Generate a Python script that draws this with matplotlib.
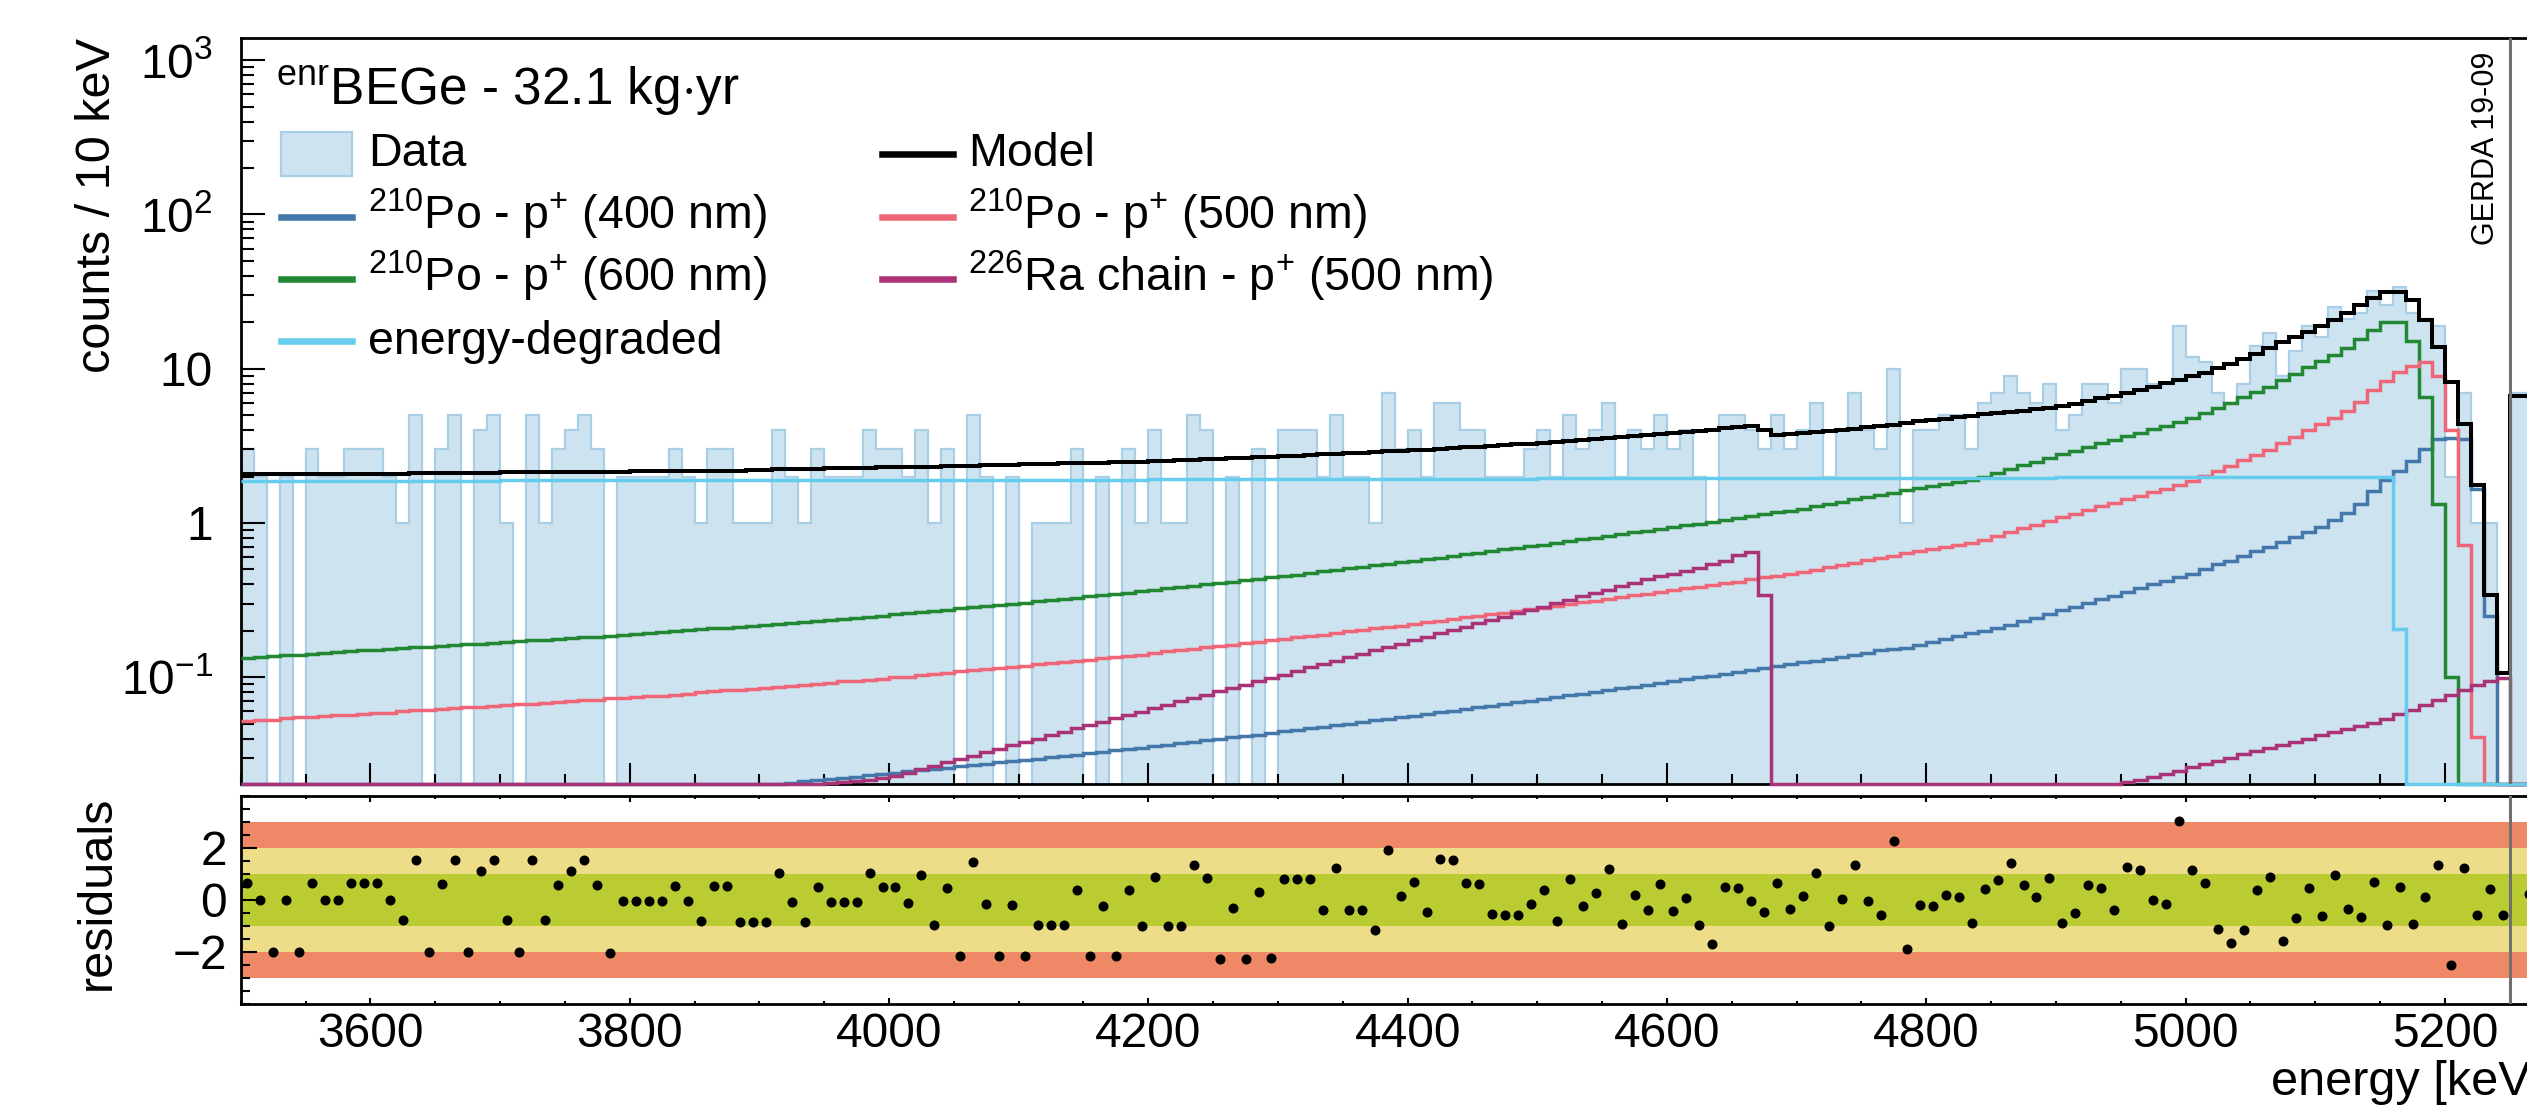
import numpy as np
import matplotlib
matplotlib.use('Agg')
import matplotlib.pyplot as plt
from matplotlib.patches import Rectangle
from matplotlib.lines import Line2D
from matplotlib.ticker import MultipleLocator, NullFormatter

plt.rcParams['font.family'] = ['Liberation Sans', 'DejaVu Sans']
plt.rcParams['mathtext.fontset'] = 'custom'
plt.rcParams['mathtext.rm'] = 'Liberation Sans'
plt.rcParams['mathtext.it'] = 'Liberation Sans:italic'
plt.rcParams['mathtext.bf'] = 'Liberation Sans:bold'

# 10 keV bins from 3500 to 5250 keV, plus one wider bin right of the grey line
edges = np.append(np.arange(3500, 5251, 10), 5280)
centers = 0.5 * (edges[:-1] + edges[1:])

data = [3, 2, 0, 2, 0, 3, 2, 2, 3, 3,
        3, 2, 1, 5, 0, 3, 5, 0, 4, 5,
        1, 0, 5, 1, 3, 4, 5, 3, 0, 2,
        2, 2, 2, 3, 2, 1, 3, 3, 1, 1,
        1, 4, 2, 1, 3, 2, 2, 2, 4, 3,
        3, 2, 4, 1, 3, 0, 5, 2, 0, 2,
        0, 1, 1, 1, 3, 0, 2, 0, 3, 1,
        4, 1, 1, 5, 4, 0, 2, 0, 3, 0,
        4, 4, 4, 2, 5, 2, 2, 1, 7, 3,
        4, 2, 6, 6, 4, 4, 2, 2, 2, 3,
        4, 2, 5, 3, 4, 6, 2, 4, 3, 5,
        3, 4, 2, 1, 5, 5, 4, 3, 5, 3,
        4, 6, 2, 4, 7, 4, 3, 10, 1, 4,
        4, 5, 5, 3, 6, 7, 9, 7, 6, 8,
        4, 5, 8, 8, 6, 10, 10, 8, 8, 19,
        12, 11, 7, 6, 8, 14, 17, 9, 13, 19,
        16, 25, 21, 23, 32, 26, 34, 23, 21, 19,
        2, 7, 1, 1, 0, 7]

model = [2.07, 2.07, 2.07, 2.07, 2.08, 2.08, 2.08, 2.08, 2.08, 2.09,
         2.09, 2.09, 2.09, 2.10, 2.10, 2.10, 2.10, 2.11, 2.11, 2.11,
         2.13, 2.13, 2.13, 2.14, 2.14, 2.14, 2.14, 2.14, 2.15, 2.15,
         2.16, 2.16, 2.16, 2.17, 2.17, 2.17, 2.18, 2.18, 2.18, 2.19,
         2.22, 2.23, 2.23, 2.24, 2.25, 2.26, 2.26, 2.27, 2.28, 2.29,
         2.30, 2.31, 2.32, 2.32, 2.33, 2.34, 2.35, 2.36, 2.37, 2.38,
         2.40, 2.41, 2.42, 2.43, 2.44, 2.45, 2.46, 2.48, 2.49, 2.50,
         2.53, 2.54, 2.56, 2.57, 2.59, 2.61, 2.62, 2.64, 2.66, 2.68,
         2.71, 2.73, 2.75, 2.78, 2.80, 2.83, 2.85, 2.88, 2.91, 2.93,
         2.96, 2.99, 3.02, 3.06, 3.09, 3.12, 3.16, 3.20, 3.23, 3.27,
         3.31, 3.36, 3.40, 3.45, 3.50, 3.55, 3.60, 3.65, 3.71, 3.77,
         3.83, 3.89, 3.95, 4.02, 4.10, 4.18, 4.26, 4.00, 3.70, 3.75,
         3.82, 3.88, 3.94, 4.01, 4.08, 4.16, 4.23, 4.31, 4.47, 4.55,
         4.65, 4.75, 4.85, 4.95, 5.05, 5.15, 5.25, 5.35, 5.45, 5.54,
         5.73, 5.93, 6.18, 6.43, 6.65, 6.99, 7.27, 7.64, 8.04, 8.45,
         8.97, 9.40, 10.1, 10.7, 11.5, 12.4, 13.6, 14.8, 16.0, 17.4,
         18.9, 20.7, 22.9, 25.9, 28.6, 31.6, 31.6, 27.9, 20.7, 13.9,
         8.2, 4.4, 1.77, 0.34, 0.106, 6.65]

# 210Po on p+ contact, 400 nm dead layer
po_400 = [0, 0, 0, 0, 0, 0, 0, 0, 0, 0,
          0, 0, 0, 0, 0, 0, 0, 0, 0, 0,
          0, 0, 0, 0, 0, 0, 0, 0, 0, 0,
          0, 0, 0, 0, 0, 0, 0, 0, 0, 0,
          0.0200, 0.0203, 0.0207, 0.0211, 0.0215, 0.0219, 0.0223, 0.0227, 0.0231, 0.0235,
          0.0240, 0.0245, 0.0250, 0.0254, 0.0259, 0.0264, 0.0269, 0.0274, 0.0280, 0.0285,
          0.0290, 0.0297, 0.0303, 0.0309, 0.0315, 0.0322, 0.0328, 0.0335, 0.0342, 0.0350,
          0.0357, 0.0365, 0.0373, 0.0381, 0.0390, 0.0398, 0.0407, 0.0416, 0.0425, 0.0435,
          0.0445, 0.0455, 0.0466, 0.0477, 0.0488, 0.0500, 0.0512, 0.0524, 0.0536, 0.0549,
          0.0562, 0.0576, 0.0591, 0.0606, 0.0621, 0.0637, 0.0653, 0.0670, 0.0687, 0.0705,
          0.0723, 0.0742, 0.0762, 0.0782, 0.0803, 0.0825, 0.0847, 0.0869, 0.0893, 0.0917,
          0.0942, 0.0969, 0.0996, 0.102, 0.105, 0.108, 0.111, 0.114, 0.118, 0.121,
          0.125, 0.128, 0.132, 0.136, 0.140, 0.144, 0.149, 0.153, 0.154, 0.161,
          0.168, 0.176, 0.184, 0.192, 0.200, 0.208, 0.218, 0.230, 0.243, 0.257,
          0.271, 0.287, 0.303, 0.320, 0.338, 0.358, 0.378, 0.399, 0.422, 0.448,
          0.47, 0.50, 0.54, 0.57, 0.61, 0.66, 0.70, 0.75, 0.81, 0.87,
          0.94, 1.04, 1.16, 1.32, 1.60, 1.90, 2.18, 2.51, 3.0, 3.5,
          3.55, 3.5, 1.67, 0.25, 0, 0]

# 210Po on p+ contact, 500 nm
po_500 = [0.052, 0.053, 0.053, 0.054, 0.055, 0.055, 0.056, 0.057, 0.057, 0.058,
          0.059, 0.059, 0.060, 0.061, 0.061, 0.062, 0.063, 0.064, 0.064, 0.065,
          0.066, 0.067, 0.067, 0.068, 0.069, 0.070, 0.071, 0.071, 0.073, 0.073,
          0.074, 0.075, 0.076, 0.077, 0.078, 0.080, 0.081, 0.082, 0.083, 0.084,
          0.085, 0.087, 0.088, 0.089, 0.090, 0.092, 0.094, 0.095, 0.096, 0.098,
          0.100, 0.101, 0.103, 0.105, 0.107, 0.109, 0.111, 0.113, 0.115, 0.117,
          0.119, 0.121, 0.123, 0.126, 0.128, 0.130, 0.133, 0.135, 0.138, 0.140,
          0.144, 0.147, 0.149, 0.152, 0.156, 0.159, 0.162, 0.166, 0.169, 0.173,
          0.177, 0.181, 0.185, 0.189, 0.193, 0.198, 0.202, 0.207, 0.212, 0.216,
          0.222, 0.227, 0.232, 0.238, 0.244, 0.250, 0.256, 0.262, 0.269, 0.275,
          0.282, 0.289, 0.297, 0.305, 0.313, 0.321, 0.330, 0.339, 0.347, 0.356,
          0.366, 0.376, 0.386, 0.398, 0.410, 0.417, 0.433, 0.445, 0.456, 0.468,
          0.484, 0.499, 0.515, 0.534, 0.554, 0.573, 0.593, 0.612, 0.636, 0.655,
          0.675, 0.698, 0.718, 0.741, 0.780, 0.827, 0.874, 0.924, 0.975, 1.03,
          1.09, 1.15, 1.21, 1.28, 1.35, 1.42, 1.50, 1.58, 1.67, 1.76,
          1.86, 2.01, 2.17, 2.35, 2.55, 2.75, 2.98, 3.28, 3.60, 3.98,
          4.37, 4.80, 5.30, 6.05, 7.3, 8.3, 9.5, 10.4, 11.1, 9.0,
          4.0, 0.72, 0.041, 0, 0, 0]

# 210Po on p+ contact, 600 nm
po_600 = [0.134, 0.136, 0.137, 0.139, 0.140, 0.142, 0.144, 0.145, 0.147, 0.149,
          0.150, 0.152, 0.154, 0.156, 0.157, 0.159, 0.161, 0.163, 0.165, 0.167,
          0.169, 0.171, 0.173, 0.175, 0.177, 0.179, 0.181, 0.183, 0.186, 0.188,
          0.191, 0.193, 0.196, 0.198, 0.201, 0.204, 0.207, 0.209, 0.212, 0.215,
          0.219, 0.222, 0.225, 0.229, 0.232, 0.236, 0.240, 0.243, 0.247, 0.251,
          0.256, 0.260, 0.265, 0.269, 0.274, 0.279, 0.284, 0.289, 0.294, 0.299,
          0.304, 0.310, 0.316, 0.322, 0.328, 0.334, 0.340, 0.347, 0.353, 0.360,
          0.368, 0.376, 0.383, 0.391, 0.399, 0.408, 0.416, 0.425, 0.434, 0.443,
          0.453, 0.463, 0.474, 0.485, 0.495, 0.507, 0.519, 0.531, 0.543, 0.555,
          0.568, 0.582, 0.596, 0.611, 0.625, 0.641, 0.656, 0.673, 0.689, 0.706,
          0.723, 0.742, 0.762, 0.782, 0.803, 0.824, 0.845, 0.868, 0.891, 0.914,
          0.938, 0.964, 0.991, 1.02, 1.05, 1.07, 1.11, 1.14, 1.17, 1.20,
          1.24, 1.28, 1.32, 1.37, 1.42, 1.47, 1.52, 1.57, 1.63, 1.68,
          1.73, 1.79, 1.84, 1.90, 2.00, 2.12, 2.24, 2.37, 2.50, 2.64,
          2.79, 2.94, 3.11, 3.28, 3.46, 3.65, 3.85, 4.06, 4.28, 4.52,
          4.76, 5.15, 5.57, 6.03, 6.53, 7.06, 7.64, 8.40, 9.24, 10.2,
          11.2, 12.3, 13.6, 15.5, 17.8, 20.2, 20.2, 15.2, 6.6, 1.32,
          0.1, 0, 0, 0, 0, 0]

# 226Ra chain on p+ contact, 500 nm
ra_500 = [0, 0, 0, 0, 0, 0, 0, 0, 0, 0,
          0, 0, 0, 0, 0, 0, 0, 0, 0, 0,
          0, 0, 0, 0, 0, 0, 0, 0, 0, 0,
          0, 0, 0, 0, 0, 0, 0, 0, 0, 0,
          0, 0, 0, 0, 0, 0.0205, 0.0209, 0.0213, 0.0217, 0.0223,
          0.0229, 0.0241, 0.0254, 0.0267, 0.0281, 0.0295, 0.0310, 0.0327, 0.0344, 0.0361,
          0.0380, 0.0400, 0.0420, 0.0442, 0.0465, 0.0489, 0.0514, 0.0541, 0.0569, 0.0598,
          0.0629, 0.0662, 0.0696, 0.0732, 0.0770, 0.0810, 0.0852, 0.0896, 0.0943, 0.0992,
          0.104, 0.110, 0.116, 0.122, 0.128, 0.135, 0.142, 0.149, 0.157, 0.165,
          0.173, 0.182, 0.192, 0.202, 0.212, 0.223, 0.235, 0.247, 0.260, 0.273,
          0.287, 0.302, 0.318, 0.334, 0.352, 0.370, 0.389, 0.409, 0.431, 0.453,
          0.47, 0.49, 0.51, 0.54, 0.57, 0.62, 0.65, 0.34, 0, 0,
          0, 0, 0, 0, 0, 0, 0, 0, 0, 0,
          0, 0, 0, 0, 0, 0, 0, 0, 0, 0,
          0, 0, 0, 0.0195, 0.0203, 0.0210, 0.0215, 0.0225, 0.0235, 0.0248,
          0.0260, 0.0273, 0.0287, 0.0301, 0.0316, 0.0332, 0.0348, 0.0365, 0.0382, 0.0400,
          0.0420, 0.0440, 0.0462, 0.0485, 0.0508, 0.0532, 0.0574, 0.061, 0.066, 0.071,
          0.077, 0.083, 0.089, 0.094, 0.099, 0]

degraded = [1.88, 1.88, 1.88, 1.88, 1.88, 1.88, 1.88, 1.88, 1.88, 1.88,
            1.88, 1.88, 1.88, 1.88, 1.88, 1.88, 1.88, 1.88, 1.88, 1.88,
            1.89, 1.89, 1.89, 1.89, 1.89, 1.89, 1.89, 1.89, 1.89, 1.89,
            1.89, 1.89, 1.89, 1.89, 1.89, 1.89, 1.89, 1.89, 1.89, 1.89,
            1.90, 1.90, 1.90, 1.90, 1.90, 1.90, 1.90, 1.90, 1.90, 1.90,
            1.90, 1.90, 1.90, 1.90, 1.90, 1.90, 1.90, 1.90, 1.90, 1.90,
            1.91, 1.91, 1.91, 1.91, 1.91, 1.91, 1.91, 1.91, 1.91, 1.91,
            1.92, 1.92, 1.92, 1.92, 1.92, 1.92, 1.92, 1.92, 1.92, 1.92,
            1.93, 1.93, 1.93, 1.93, 1.93, 1.93, 1.93, 1.93, 1.93, 1.93,
            1.94, 1.94, 1.94, 1.94, 1.94, 1.94, 1.94, 1.94, 1.94, 1.94,
            1.95, 1.95, 1.95, 1.95, 1.95, 1.95, 1.95, 1.95, 1.95, 1.95,
            1.96, 1.96, 1.96, 1.96, 1.96, 1.96, 1.96, 1.96, 1.96, 1.96,
            1.97, 1.97, 1.97, 1.97, 1.97, 1.97, 1.97, 1.97, 1.97, 1.97,
            1.97, 1.97, 1.97, 1.97, 1.97, 1.97, 1.97, 1.97, 1.97, 1.97,
            1.98, 1.98, 1.98, 1.98, 1.98, 1.98, 1.98, 1.98, 1.98, 1.98,
            1.99, 1.99, 1.99, 1.99, 1.99, 1.99, 1.99, 1.99, 1.99, 1.99,
            2.00, 2.00, 2.00, 2.00, 2.00, 2.00, 0.206, 0, 0, 0,
            0, 0, 0, 0, 0, 0]

residuals = [0.64, 0, -2.0, 0, -2.0, 0.64, 0, 0, 0.64, 0.64,
             0.64, 0, -0.79, 1.53, -2.0, 0.62, 1.53, -2.0, 1.12, 1.53,
             -0.79, -2.0, 1.53, -0.79, 0.57, 1.12, 1.53, 0.57, -2.04, -0.06,
             -0.06, -0.06, -0.06, 0.54, -0.06, -0.83, 0.54, 0.54, -0.85, -0.85,
             -0.85, 1.04, -0.1, -0.85, 0.51, -0.1, -0.1, -0.1, 1.02, 0.49,
             0.49, -0.12, 0.95, -0.95, 0.45, -2.15, 1.45, -0.15, -2.17, -0.20,
             -2.17, -0.96, -0.96, -0.96, 0.39, -2.16, -0.23, -2.17, 0.37, -0.99,
             0.89, -1.0, -1.0, 1.33, 0.85, -2.27, -0.32, -2.27, 0.29, -2.25,
             0.80, 0.79, 0.79, -0.38, 1.22, -0.38, -0.40, -1.16, 1.91, 0.15,
             0.68, -0.47, 1.56, 1.53, 0.63, 0.60, -0.56, -0.57, -0.57, -0.15,
             0.37, -0.81, 0.81, -0.25, 0.26, 1.19, -0.93, 0.18, -0.38, 0.60,
             -0.44, 0.06, -0.96, -1.70, 0.50, 0.45, -0.03, -0.46, 0.64, -0.36,
             0.15, 1.02, -1.02, 0.05, 1.34, -0.03, -0.57, 2.26, -1.89, -0.19,
             -0.23, 0.17, 0.11, -0.89, 0.43, 0.75, 1.43, 0.58, 0.11, 0.83,
             -0.87, -0.51, 0.56, 0.47, -0.40, 1.25, 1.13, -0.02, -0.15, 3.02,
             1.13, 0.65, -1.12, -1.66, -1.16, 0.37, 0.89, -1.57, -0.71, 0.46,
             -0.62, 0.96, -0.34, -0.65, 0.70, -0.98, 0.50, -0.91, 0.10, 1.34,
             -2.52, 1.21, -0.57, 0.43, -0.57, 0.22]

yticks_top = [0.1, 1, 10, 100, 1000]
ytick_labels_top = [r'$10^{-1}$', '1', '10', r'$10^{2}$', r'$10^{3}$']

c_data, c_data_edge = '#cde3f0', '#a9cfe6'
c_400, c_500, c_600 = '#4477aa', '#ee6677', '#228833'
c_ra, c_deg = '#aa3377', '#66ccee'
c_band3, c_band2, c_band1 = '#ee8866', '#eedd88', '#bbcc33'

# figure geometry in pixels, taken from the original
W, H = 2527, 1106
def fx(px):
    return px / W
def fy(py):
    return 1 - py / H

x0, kev_px = 240.7, 1.2966
xmax = 5300
ybot, ytop = 0.0203, 1400

fig = plt.figure(figsize=(W / 100, H / 100), dpi=100)
axw = (xmax - 3500) * kev_px / W
ax = fig.add_axes([fx(x0), fy(784), axw, (784 - 37.7) / H])
axr = fig.add_axes([fx(x0), fy(1004), axw, (1004 - 795.7) / H])

# ---- spectrum panel
ax.set_yscale('log')
ax.set_xlim(3500, xmax)
ax.set_ylim(ybot, ytop)

d = np.array(data, dtype=float)
ax.stairs(np.where(d > 0, d, 1e-3), edges, baseline=1e-3, fill=True,
          facecolor=c_data, edgecolor=c_data_edge, linewidth=1.6, zorder=1)

for vals, col in [(po_400, c_400), (po_600, c_600), (po_500, c_500),
                  (ra_500, c_ra), (degraded, c_deg)]:
    ax.stairs(np.maximum(np.array(vals, dtype=float), ybot), edges, baseline=None,
              color=col, linewidth=2.5, zorder=3, clip_on=False)
ax.stairs(np.maximum(np.array(model), ybot), edges, baseline=None,
          color='black', linewidth=2.9, zorder=3.5, clip_on=False)

ax.axvline(5250, color='#707070', linewidth=2.2, zorder=4)

ax.set_yticks(yticks_top)
ax.set_yticklabels(ytick_labels_top)
ax.yaxis.set_minor_formatter(NullFormatter())
ax.xaxis.set_major_locator(MultipleLocator(200))
ax.xaxis.set_minor_locator(MultipleLocator(50))
ax.tick_params(axis='x', which='both', direction='in', labelbottom=False,
               top=False, bottom=True, width=1.5)
ax.tick_params(axis='x', which='major', length=14.9)
ax.tick_params(axis='x', which='minor', length=7.2)
ax.tick_params(axis='y', which='both', direction='in', right=False, width=1.5,
               labelsize=34.5, pad=20)
ax.tick_params(axis='y', which='major', length=17)
ax.tick_params(axis='y', which='minor', length=9.1)
for s in ax.spines.values():
    s.set_linewidth(2)
ax.spines['right'].set_visible(False)

# ---- residual panel
axr.set_xlim(3500, xmax)
axr.set_ylim(-4, 4)
axr.axhspan(-3, 3, color=c_band3, lw=0, zorder=0)
axr.axhspan(-2, 2, color=c_band2, lw=0, zorder=0)
axr.axhspan(-1, 1, color=c_band1, lw=0, zorder=0)
axr.plot(centers, residuals, 'o', color='black', markersize=6.2, zorder=3)
axr.axvline(5250, color='#707070', linewidth=2.2, zorder=4)

axr.set_yticks([-2, 0, 2])
axr.yaxis.set_minor_locator(MultipleLocator(0.5))
axr.xaxis.set_major_locator(MultipleLocator(200))
axr.xaxis.set_minor_locator(MultipleLocator(50))
axr.tick_params(axis='x', which='both', direction='in', top=True, bottom=True,
                width=1.5, labelsize=34.5, pad=6)
axr.tick_params(axis='x', which='major', length=4.1)
axr.tick_params(axis='x', which='minor', length=2.2)
axr.tick_params(axis='y', which='both', direction='in', right=False, width=1.5,
                labelsize=34.5, pad=10)
axr.tick_params(axis='y', which='major', length=11.5)
axr.tick_params(axis='y', which='minor', length=6.3)
for s in axr.spines.values():
    s.set_linewidth(2)
axr.spines['right'].set_visible(False)

# ---- axis titles (ROOT style, aligned to the axis ends)
fig.text(fx(110), fy(38), 'counts / 10 keV', fontsize=35, rotation=90,
         rotation_mode='anchor', ha='right', va='baseline')
fig.text(fx(110), fy(795.7), 'residuals', fontsize=35, rotation=90,
         rotation_mode='anchor', ha='right', va='baseline')
fig.text(fx(2544), fy(1095), 'energy [keV]', fontsize=35, ha='right', va='baseline')
fig.text(fx(2494), fy(245), 'GERDA 19-09', fontsize=22, rotation=90,
         rotation_mode='anchor', ha='left', va='baseline')

# ---- header and legend
fig.text(fx(276), fy(105), r'$^{\mathrm{enr}}$BEGe - 32.1 kg$\cdot$yr', fontsize=37,
         va='baseline')

rows = [154, 216.7, 278.7, 341.3]
fig.add_artist(Rectangle((fx(281), fy(176)), fx(352) - fx(281), fy(132) - fy(176),
                         transform=fig.transFigure, facecolor=c_data,
                         edgecolor=c_data_edge, linewidth=1.6))
fig.text(fx(368), fy(rows[0] + 12.5), 'Data', fontsize=33.5, va='baseline')
col1 = [(c_400, r'$^{210}$Po - p$^{+}$ (400 nm)'),
        (c_600, r'$^{210}$Po - p$^{+}$ (600 nm)'),
        (c_deg, 'energy-degraded')]
col2 = [('black', 'Model'),
        (c_500, r'$^{210}$Po - p$^{+}$ (500 nm)'),
        (c_ra, r'$^{226}$Ra chain - p$^{+}$ (500 nm)')]
for (col, lab), r in zip(col1, rows[1:]):
    fig.add_artist(Line2D([fx(281), fx(352)], [fy(r), fy(r)], transform=fig.transFigure,
                          color=col, linewidth=4.7))
    fig.text(fx(368), fy(r + 12.5), lab, fontsize=33.5, va='baseline')
for (col, lab), r in zip(col2, rows[:3]):
    fig.add_artist(Line2D([fx(881.6), fx(953)], [fy(r), fy(r)], transform=fig.transFigure,
                          color=col, linewidth=4.7))
    fig.text(fx(968), fy(r + 12.5), lab, fontsize=33.5, va='baseline')

fig.savefig('out.png', dpi=100)
